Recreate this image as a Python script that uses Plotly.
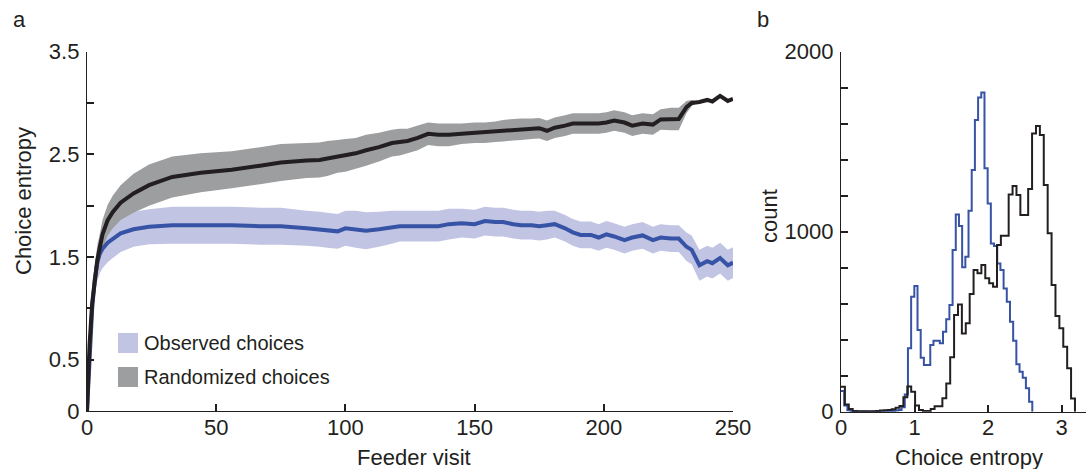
import numpy as np
import plotly.graph_objects as go

# ---------------- data: panel a ----------------
visits = [0, 1, 2, 3, 4, 5, 6, 8, 10, 13, 18, 24, 33, 44, 56, 67, 75, 85, 90, 93,
          97, 100, 104, 108, 113, 118, 121, 124, 128, 132, 136, 140, 145, 150, 154,
          158, 161, 165, 168, 172, 175, 178, 181, 185, 188, 191, 195, 198, 201, 204,
          208, 211, 215, 219, 222, 226, 229, 232, 234, 237, 240, 242, 245, 248, 250]

random_mean = [0.0, 0.65, 1.05, 1.3, 1.47, 1.6, 1.72, 1.86, 1.94, 2.03, 2.12, 2.2, 2.28,
               2.32, 2.35, 2.39, 2.42, 2.44, 2.445, 2.46, 2.48, 2.49, 2.51, 2.54, 2.57,
               2.61, 2.62, 2.63, 2.66, 2.7, 2.69, 2.69, 2.7, 2.71, 2.71, 2.72, 2.73, 2.74,
               2.745, 2.75, 2.755, 2.73, 2.76, 2.78, 2.8, 2.8, 2.8, 2.8, 2.81, 2.83, 2.81,
               2.78, 2.8, 2.79, 2.84, 2.845, 2.845, 2.96, 3.0, 3.01, 3.03, 3.015, 3.07,
               3.02, 3.04]

random_half = [0.0, 0.05, 0.08, 0.1, 0.12, 0.13, 0.14, 0.15, 0.16, 0.17, 0.19, 0.2, 0.2,
               0.19, 0.18, 0.18, 0.18, 0.17, 0.17, 0.17, 0.16, 0.16, 0.15, 0.15, 0.14,
               0.13, 0.13, 0.12, 0.12, 0.11, 0.11, 0.11, 0.1, 0.1, 0.1, 0.1, 0.105, 0.105,
               0.105, 0.1, 0.1, 0.1, 0.1, 0.1, 0.1, 0.1, 0.1, 0.1, 0.1, 0.1, 0.1, 0.1,
               0.1, 0.1, 0.1, 0.11, 0.11, 0.06, 0.03, 0.0, None, None, None, None, None]

observed_mean = [0.0, 0.6, 1.0, 1.28, 1.45, 1.535, 1.58, 1.64, 1.68, 1.73, 1.77, 1.795,
                 1.81, 1.81, 1.81, 1.8, 1.8, 1.78, 1.77, 1.76, 1.75, 1.78, 1.77, 1.755,
                 1.77, 1.79, 1.8, 1.8, 1.8, 1.8, 1.8, 1.82, 1.83, 1.82, 1.85, 1.84, 1.84,
                 1.82, 1.81, 1.81, 1.8, 1.81, 1.82, 1.78, 1.74, 1.715, 1.715, 1.69, 1.72,
                 1.7, 1.665, 1.69, 1.71, 1.665, 1.69, 1.68, 1.68, 1.6, 1.57, 1.42, 1.46,
                 1.44, 1.49, 1.42, 1.445]

observed_half = [0.0, 0.08, 0.12, 0.15, 0.18, 0.19, 0.19, 0.19, 0.19, 0.18, 0.17, 0.17,
                 0.18, 0.18, 0.18, 0.18, 0.18, 0.17, 0.17, 0.17, 0.17, 0.17, 0.18, 0.18,
                 0.17, 0.16, 0.15, 0.15, 0.15, 0.15, 0.15, 0.15, 0.14, 0.14, 0.14, 0.14,
                 0.14, 0.14, 0.14, 0.14, 0.14, 0.14, 0.13, 0.13, 0.13, 0.13, 0.13, 0.13,
                 0.13, 0.13, 0.13, 0.13, 0.13, 0.13, 0.13, 0.13, 0.13, 0.14, 0.14, 0.15,
                 0.15, 0.15, 0.15, 0.15, 0.15]

x_ticks_a = [0, 50, 100, 150, 200, 250]
y_ticks_a = [0, 0.5, 1, 1.5, 2, 2.5, 3, 3.5]
y_labels_a = ["0", "0.5", "", "1.5", "", "2.5", "", "3.5"]

# ---------------- data: panel b ----------------
n_bins = 60
observed_entropy_max = 2.60
random_entropy_max = 3.18
observed_counts = [115, 35, 8, 3, 2, 1, 1, 1, 0, 0, 1, 1, 1, 2, 2, 3, 4, 6, 10, 25,
                   95, 352, 639, 698, 454, 300, 259, 259, 370, 394, 394, 380, 444, 513,
                   593, 898, 1096, 1031, 802, 861, 1117, 1343, 1620, 1746, 1774, 1352,
                   1157, 935, 920, 824, 787, 685, 611, 500, 394, 263, 222, 189, 130, 55]
random_counts = [139, 40, 15, 4, 3, 2, 2, 2, 3, 4, 6, 8, 10, 13, 22, 32, 80, 140, 111, 35,
                 9, 4, 4, 15, 30, 30, 75, 157, 302, 537, 596, 435, 491, 654, 787, 769,
                 815, 741, 713, 694, 926, 978, 978, 1207, 1254, 1204, 1093, 1093, 1237,
                 1546, 1587, 1537, 1259, 991, 704, 531, 463, 361, 241, 74]
x_ticks_b = [0, 1, 2, 3]
y_ticks_b = [0, 200, 400, 600, 800, 1000, 1200, 1400, 1600, 1800, 2000]
y_labels_b = ["0", "", "", "", "", "1000", "", "", "", "", "2000"]

# ---------------- styling ----------------
W, H = 1086, 469
INK = "#231f20"
BLUE = "#3653a5"
BLUE_BAND = "#c1c5e3"
GRAY_BAND = "#9d9ea0"
FONT = "Liberation Sans, Arial, sans-serif"


def px(x):
    return x / W


def py(y):
    return 1 - y / H


def band(xs, mean, half):
    xx, lo, hi = [], [], []
    for x, m, h in zip(xs, mean, half):
        if h is None:
            continue
        xx.append(x)
        lo.append(m - h)
        hi.append(m + h)
    return xx + xx[::-1], hi + lo[::-1]


fig = go.Figure()

bx, by = band(visits, observed_mean, observed_half)
fig.add_trace(go.Scatter(x=bx, y=by, fill="toself", fillcolor=BLUE_BAND, mode="none",
                         hoverinfo="skip", showlegend=False, xaxis="x", yaxis="y"))
gx, gy = band(visits, random_mean, random_half)
fig.add_trace(go.Scatter(x=gx, y=gy, fill="toself", fillcolor=GRAY_BAND, mode="none",
                         hoverinfo="skip", showlegend=False, xaxis="x", yaxis="y"))
fig.add_trace(go.Scatter(x=visits, y=observed_mean, mode="lines",
                         line=dict(color=BLUE, width=4), showlegend=False,
                         xaxis="x", yaxis="y"))
fig.add_trace(go.Scatter(x=visits, y=random_mean, mode="lines",
                         line=dict(color=INK, width=4), showlegend=False,
                         xaxis="x", yaxis="y"))


def stairs(counts, vmax):
    edges = np.linspace(0, vmax, n_bins + 1)
    xs = list(edges) + [edges[-1]]
    ys = list(counts) + [counts[-1], 0]
    return xs, ys


sx, sy = stairs(observed_counts, observed_entropy_max)
fig.add_trace(go.Scatter(x=sx, y=sy, mode="lines", line=dict(color=BLUE, width=2, shape="hv"),
                         showlegend=False, xaxis="x2", yaxis="y2"))
rx, ry = stairs(random_counts, random_entropy_max)
fig.add_trace(go.Scatter(x=rx, y=ry, mode="lines", line=dict(color=INK, width=2, shape="hv"),
                         showlegend=False, xaxis="x2", yaxis="y2"))

axis_common = dict(showline=True, linecolor=INK, linewidth=1.3, ticks="inside",
                   ticklen=7, tickwidth=1.5, tickcolor=INK, showgrid=False,
                   zeroline=False, automargin=False,
                   tickfont=dict(family=FONT, size=22, color=INK),
                   fixedrange=True)

fig.update_layout(
    template="none",
    width=W, height=H,
    margin=dict(l=0, r=0, t=0, b=0, pad=0),
    paper_bgcolor="white", plot_bgcolor="white",
    showlegend=False,
    xaxis=dict(domain=[px(87), px(733)], range=[0, 250], tickvals=x_ticks_a,
               anchor="y", ticklabelstandoff=-4, **axis_common),
    yaxis=dict(domain=[py(411), py(51.7)], range=[0, 3.5], tickvals=y_ticks_a,
               ticktext=y_labels_a, anchor="x", ticklabelstandoff=2, **axis_common),
    xaxis2=dict(domain=[px(841), 1.0], range=[0, 3.33], tickvals=x_ticks_b,
                anchor="y2", ticklabelstandoff=-4, **axis_common),
    yaxis2=dict(domain=[py(411.7), py(51.7)], range=[0, 2000], tickvals=y_ticks_b,
                ticktext=y_labels_b, anchor="x2", ticklabelstandoff=2, **axis_common),
)

shapes = [
    dict(type="rect", xref="paper", yref="paper", x0=px(118), x1=px(138),
         y0=py(353), y1=py(333), fillcolor=BLUE_BAND, line=dict(width=0)),
    dict(type="rect", xref="paper", yref="paper", x0=px(118), x1=px(138),
         y0=py(387), y1=py(367), fillcolor=GRAY_BAND, line=dict(width=0)),
]
fig.update_layout(shapes=shapes)


def note(text, x, y, size=22, angle=0, xanchor="center"):
    return dict(text=text, x=px(x), y=py(y), xref="paper", yref="paper",
                showarrow=False, xanchor=xanchor, yanchor="middle", textangle=angle,
                font=dict(family=FONT, size=size, color=INK))


fig.update_layout(annotations=[
    note("a", 11, 20, xanchor="left"),
    note("b", 755, 20, xanchor="left"),
    note("Choice entropy", 23, 201, angle=-90),
    note("Feeder visit", 414, 457),
    note("count", 769, 216, angle=-90),
    note("Choice entropy", 969, 457),
    note("Observed choices", 142, 343, size=20, xanchor="left"),
    note("Randomized choices", 142, 377, size=20, xanchor="left"),
])

fig.write_html("out.html")
